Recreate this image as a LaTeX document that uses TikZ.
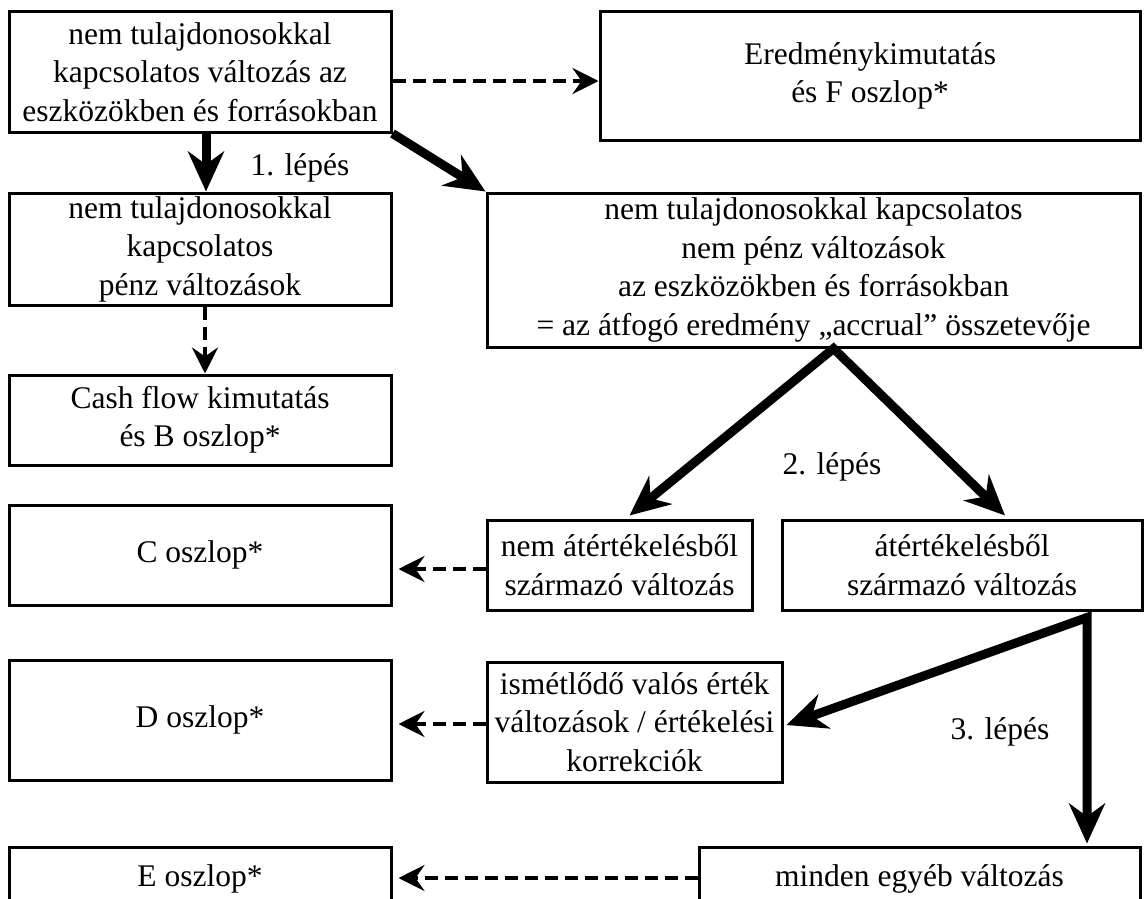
\documentclass[tikz,border=0pt]{standalone}
\usepackage{fontspec}
\setmainfont{Liberation Serif}
\usetikzlibrary{arrows.meta,calc}
\begin{document}
\begin{tikzpicture}[x=1pt,y=-1pt,
  box/.style={draw, line width=3pt, align=center, inner sep=0pt,
    font=\fontsize{31.5}{38.5}\selectfont},
  lbl/.style={inner sep=0pt, font=\fontsize{31.5}{38.5}\selectfont},
  bigarrow/.style={line width=9pt, line join=miter,
    -{Stealth[length=40pt,width=36pt,inset=13pt]}},
  bigboth/.style={line width=9pt, line join=miter,
    {Stealth[length=40pt,width=36pt,inset=13pt]}-{Stealth[length=40pt,width=36pt,inset=13pt]}},
  dasharrow/.style={line width=4.5pt, dash pattern=on 13pt off 7pt,
    -{Stealth[length=26pt,width=26pt,inset=9pt]}},
]
\useasboundingbox (0,0) rectangle (1148,899);

% left column
\node[box, minimum width=382pt, minimum height=120pt] (A) at (200,72)
  {nem tulajdonosokkal\\kapcsolatos változás az\\eszközökben és forrásokban};
\node[box, minimum width=382pt, minimum height=112pt] (B) at (200,249)
  {nem tulajdonosokkal\\kapcsolatos\\pénz változások};
\node[box, minimum width=382pt, minimum height=90pt] (CF) at (200,420)
  {Cash flow kimutatás\\és B oszlop*};
\node[box, minimum width=382pt, minimum height=100pt] (C) at (200,555)
  {C oszlop*};
\node[box, minimum width=382pt, minimum height=120pt] (D) at (200,720)
  {D oszlop*};
\node[box, minimum width=382pt, minimum height=64pt] (E) at (200,879)
  {E oszlop*};

% right part
\node[box, minimum width=540pt, minimum height=128pt] (F) at (870,76)
  {Eredménykimutatás\\és F oszlop*};
\node[box, minimum width=653pt, minimum height=154pt] (G) at (813.5,270)
  {nem tulajdonosokkal kapcsolatos\\nem pénz változások\\az eszközökben és forrásokban\\= az átfogó eredmény „accrual” összetevője};
\node[box, minimum width=265pt, minimum height=90pt] (NA) at (619.5,565)
  {nem átértékelésből\\származó változás};
\node[box, minimum width=360pt, minimum height=90pt] (AT) at (962,565)
  {átértékelésből\\származó változás};
\node[box, minimum width=295pt, minimum height=120pt] (IS) at (634.5,722)
  {ismétlődő valós érték\\változások / értékelési\\korrekciók};
\node[box, minimum width=441pt, minimum height=64pt] (MI) at (919.5,879)
  {minden egyéb változás};

% step labels
\node[lbl] (l1) at (300,168) {1. lépés};
\node[lbl] (l2) at (832,467) {2. lépés};
\node[lbl] (l3) at (1000,732) {3. lépés};

% step 1
\draw[bigarrow] ($(A.south)+(6,0)$) -- ($(B.north)+(6,0)$);
\draw[bigarrow] (A.south east) -- (G.north west);
% step 2
\draw[bigboth] ($(NA.north)+(10,-3)$) -- ($(G.south)+(20,0)$) -- ($(AT.north)+(43,-3)$);
% step 3
\draw[bigboth] ($(IS.east)+(3,3)$) -- ($(AT.south)+(125,6)$) -- ($(MI.north)+(167.5,-2)$);

% dashed links to the statement columns
\draw[dasharrow] ($(A.east)+(0,9)$) -- ($(F.west)+(0,5)$);
\draw[dasharrow] ($(B.south)+(5,0)$) -- ($(CF.north)+(5,0)$);
\draw[dasharrow] ($(NA.west)+(0,4)$) -- ($(C.east)+(6,14)$);
\draw[dasharrow] ($(IS.west)+(0,2)$) -- ($(D.east)+(6,4)$);
\draw[dasharrow] ($(MI.west)+(0,-1)$) -- ($(E.east)+(6,-1)$);
\end{tikzpicture}
\end{document}
